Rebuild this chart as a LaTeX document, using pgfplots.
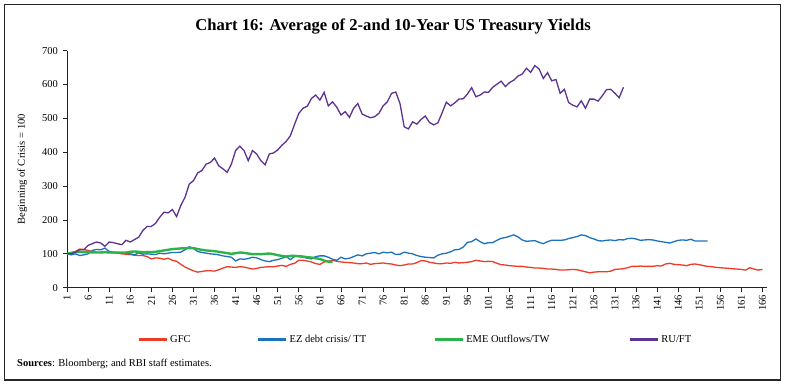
\documentclass[border=0pt]{standalone}
\usepackage{pgfplots}
\pgfplotsset{compat=1.18}
\usepackage{fontspec}
\setmainfont{Liberation Serif}
\definecolor{cred}{HTML}{EE3B26}
\definecolor{cblue}{HTML}{1C72BC}
\definecolor{cgreen}{HTML}{2DB34A}
\definecolor{cpurple}{HTML}{5C3292}
\definecolor{axgray}{HTML}{222222}
\begin{document}
\begin{tikzpicture}[x=1pt,y=1pt]
\useasboundingbox (0,0) rectangle (786,385);
\draw[line width=1pt, black!85] (4.5,5) rectangle (780.5,380);
\node[font=\fontsize{16.6}{19}\selectfont\bfseries, anchor=base, inner sep=0pt] at (393,354) {Chart 16: Average of 2-and 10-Year US Treasury Yields};
\node[font=\fontsize{10.5}{12}\selectfont, anchor=base west, inner sep=0pt] at (17,19) {\textbf{Sources}: Bloomberg; and RBI staff estimates.};
\begin{axis}[
  at={(67pt,97.3pt)}, anchor=south west,
  scale only axis, width=700pt, height=237pt,
  xmin=1, xmax=167.07, ymin=0, ymax=700,
  axis x line=bottom, axis y line=left,
  axis line style={-, axgray, line width=0.9pt},
  xtick={1,6,...,166}, ytick={0,100,...,700},
  tick align=outside, major tick length=4pt,
  tick style={axgray, line width=0.8pt},
  /pgf/number format/assume math mode=true,
  x tick label style={rotate=90, anchor=east, font=\fontsize{10.5}{12}\selectfont},
  y tick label style={font=\fontsize{10.5}{12}\selectfont, xshift=-1.5pt},
  ylabel={Beginning of Crisis = 100},
  ylabel style={font=\fontsize{10.6}{12}\selectfont, at={(axis description cs:-0.064,0.5)}, anchor=center},
  legend columns=4,
  legend style={at={(axis cs:1,0)}, anchor=north west, draw=none, fill=none,
    xshift=67pt, yshift=-43pt,
    font=\fontsize{10.5}{12}\selectfont,
    /tikz/column 2/.style={column sep=64pt},
    /tikz/column 4/.style={column sep=65pt},
    /tikz/column 6/.style={column sep=77pt}},
  legend image code/.code={\draw[#1, line width=3pt] (0,0) -- (28pt,0);},
]
\addplot[cred, line width=1.3pt] table {
1 100
2 102
3 107
4 114
5 113
6 110
7 107
8 105
9 104
10 104
11 104
12 103
13 102
14 100
15 99
16 98
17 96
18 95
19 95
20 92
21 85
22 88
23 87
24 84
25 87
26 81
27 78
28 69
29 61
30 55
31 50
32 46
33 48
34 50
35 50
36 49
37 53
38 58
39 62
40 61
41 60
42 62
43 61
44 58
45 55
46 57
47 60
48 61
49 62
50 62
51 64
52 66
53 63
54 69
55 72
56 81
57 81
58 79
59 76
60 71
61 69
62 76
63 78
64 81
65 78
66 76
67 75
68 74
69 73
70 71
71 71
72 73
73 69
74 71
75 72
76 73
77 71
78 70
79 67
80 65
81 67
82 70
83 70
84 74
85 80
86 79
87 75
88 73
89 71
90 71
91 73
92 72
93 75
94 73
95 74
96 75
97 77
98 81
99 79
100 77
101 78
102 77
103 72
104 68
105 67
106 65
107 64
108 63
109 63
110 61
111 60
112 58
113 58
114 57
115 55
116 55
117 54
118 52
119 52
120 53
121 54
122 53
123 50
124 47
125 44
126 46
127 47
128 47
129 47
130 49
131 54
132 55
133 56
134 59
135 63
136 63
137 64
138 63
139 63
140 63
141 65
142 64
143 70
144 72
145 69
146 68
147 67
148 65
149 69
150 70
151 68
152 65
153 63
154 62
155 60
156 59
157 58
158 57
159 56
160 55
161 54
162 52
163 59
164 55
165 52
166 54
};
\addlegendentry{GFC}
\addplot[cblue, line width=1.3pt] table {
1 100
2 97
3 100
4 95
5 97
6 100
7 110
8 113
9 112
10 117
11 107
12 105
13 104
14 103
15 102
16 100
17 97
18 103
19 99
20 100
21 99
22 98
23 102
24 100
25 102
26 104
27 104
28 105
29 112
30 121
31 116
32 107
33 104
34 102
35 100
36 99
37 97
38 94
39 92
40 90
41 79
42 85
43 84
44 86
45 90
46 88
47 83
48 79
49 77
50 81
51 83
52 87
53 92
54 83
55 92
56 92
57 90
58 87
59 85
60 92
61 94
62 94
63 90
64 84
65 81
66 90
67 85
68 87
69 92
70 97
71 94
72 100
73 102
74 104
75 100
76 105
77 103
78 105
79 98
80 99
81 105
82 102
83 100
84 95
85 92
86 90
87 89
88 88
89 96
90 100
91 102
92 106
93 112
94 113
95 120
96 134
97 136
98 144
99 136
100 130
101 133
102 133
103 140
104 146
105 148
106 152
107 156
108 150
109 141
110 137
111 138
112 139
113 134
114 130
115 136
116 140
117 140
118 140
119 141
120 145
121 148
122 151
123 156
124 154
125 148
126 144
127 139
128 138
129 140
130 141
131 139
132 142
133 141
134 145
135 146
136 144
137 140
138 141
139 142
140 141
141 138
142 136
143 134
144 132
145 136
146 140
147 141
148 140
149 143
150 138
151 138
152 138
153 138
};
\addlegendentry{EZ debt crisis/ TT}
\addplot[cgreen, line width=2.4pt] table {
1 100
2 103
3 105
4 106
5 105
6 105
7 104
8 104
9 104
10 105
11 104
12 104
13 104
14 104
15 104
16 106
17 107
18 106
19 105
20 105
21 105
22 106
23 108
24 110
25 112
26 114
27 115
28 116
29 116
30 117
31 117
32 114
33 112
34 110
35 109
36 108
37 106
38 104
39 102
40 100
41 102
42 104
43 103
44 101
45 99
46 99
47 99
48 100
49 101
50 99
51 96
52 94
53 92
54 94
55 94
56 93
57 92
58 90
59 89
60 87
61 85
62 80
63 77
64 76
};
\addlegendentry{EME Outflows/TW}
\addplot[cpurple, line width=1.3pt] table {
1 100
2 100
3 105
4 112
5 112
6 125
7 130
8 135
9 132
10 122
11 135
12 133
13 130
14 127
15 140
16 135
17 142
18 149
19 169
20 181
21 181
22 190
23 208
24 223
25 221
26 231
27 210
28 243
29 267
30 306
31 316
32 339
33 346
34 365
35 370
36 383
37 360
38 351
39 341
40 365
41 405
42 418
43 405
44 375
45 405
46 395
47 375
48 363
49 395
50 398
51 407
52 421
53 432
54 449
55 483
56 515
57 530
58 536
59 559
60 569
61 554
62 577
63 537
64 549
65 533
66 510
67 520
68 503
69 530
70 544
71 513
72 507
73 502
74 505
75 515
76 537
77 549
78 574
79 578
80 544
81 475
82 469
83 490
84 483
85 497
86 507
87 488
88 481
89 487
90 517
91 548
92 537
93 546
94 557
95 558
96 572
97 591
98 564
99 569
100 578
101 577
102 592
103 601
104 610
105 594
106 606
107 613
108 625
109 631
110 648
111 636
112 656
113 646
114 618
115 635
116 611
117 615
118 574
119 586
120 547
121 539
122 534
123 552
124 530
125 557
126 557
127 551
128 567
129 585
130 586
131 574
132 561
133 592
};
\addlegendentry{RU/FT}
\end{axis}
\end{tikzpicture}
\end{document}
